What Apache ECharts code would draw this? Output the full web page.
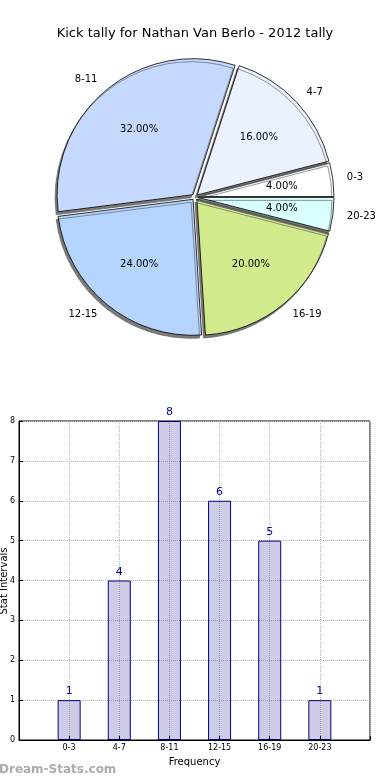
<!DOCTYPE html>
<html>
<head>
<meta charset="utf-8">
<script src="https://cdn.jsdelivr.net/npm/echarts@6/dist/echarts.min.js"></script>
<style>
html,body{margin:0;padding:0;background:#fff;}
#c{width:390px;height:780px;}
</style>
</head>
<body>
<div id="c"></div>
<script>
var titleText = 'Kick tally for Nathan Van Berlo - 2012 tally';
var categories = ['0-3', '4-7', '8-11', '12-15', '16-19', '20-23'];
var counts = [1, 4, 8, 6, 5, 1];
var sliceColors = ['#ffffff', '#ebf2ff', '#c5d9ff', '#b5d5ff', '#d0ea8c', '#d9ffff'];
var yTicks = [0, 1, 2, 3, 4, 5, 6, 7, 8];
var xName = 'Frequency';
var yName = 'Stat Intervals';
var watermark = 'Dream-Stats.com';

var FONT = 'DejaVu Sans';
var total = counts.reduce(function (a, b) { return a + b; }, 0);
var R = 136;
var OFF = 3;

var pieData = categories.map(function (c, i) {
  return { name: c, value: counts[i], selected: true, itemStyle: { color: sliceColors[i] } };
});
var pieLabelData = categories.map(function (c, i) {
  return { name: c, value: counts[i], selected: true };
});
var barData = counts.map(function (v, i) { return [i, v]; });

var chart = echarts.init(document.getElementById('c'), null, { renderer: 'canvas' });
chart.setOption({
  animation: false,
  title: {
    text: titleText, left: 'center', top: 22,
    textStyle: { fontFamily: FONT, fontSize: 13, fontWeight: 'normal', color: '#000' }
  },
  graphic: [{
    type: 'text', left: -1, top: 764,
    style: { text: watermark, fontFamily: FONT, fontSize: 12, fontWeight: 'bold', fill: '#acacac' }
  }, {
    type: 'text', x: 4, y: 581, rotation: Math.PI / 2,
    style: { text: yName, fontFamily: FONT, fontSize: 10, fill: '#000', align: 'center', verticalAlign: 'middle' }
  }],
  grid: {
    left: 19, right: 20, top: 421, bottom: 40,
    containLabel: false, outerBoundsMode: 'none',
    show: true, borderColor: '#000', borderWidth: 1, backgroundColor: 'transparent'
  },
  xAxis: {
    type: 'value', min: -1, max: 6, interval: 1,
    name: xName, nameLocation: 'middle', nameGap: 17, nameMoveOverlap: false,
    nameTextStyle: { fontFamily: FONT, fontSize: 10, color: '#000' },
    axisLine: { show: true, onZero: false, lineStyle: { color: '#000' } },
    axisTick: { show: true, inside: true, length: 4, lineStyle: { color: '#000' } },
    axisLabel: {
      fontFamily: FONT, fontSize: 8, color: '#000', margin: 4,
      formatter: function (v) { return categories[v] !== undefined ? categories[v] : ''; }
    },
    splitLine: { show: true, lineStyle: { type: 'dotted', color: '#bbbbbb', width: 1 } }
  },
  yAxis: {
    type: 'value', min: 0, max: 8, interval: 1,
    axisLine: { show: true, onZero: false, lineStyle: { color: '#000' } },
    axisTick: { show: true, inside: true, length: 4, lineStyle: { color: '#000' } },
    axisLabel: {
      fontFamily: FONT, fontSize: 8, color: '#000', margin: 4,
      formatter: function (v) { return yTicks.indexOf(v) >= 0 ? String(v) : ''; }
    },
    splitLine: { show: true, lineStyle: { type: 'dotted', color: '#bbbbbb', width: 1 } }
  },
  series: [
    {
      type: 'pie',
      center: [195, 197],
      radius: [0, R],
      startAngle: 0,
      clockwise: false,
      silent: true,
      selectedMode: 'multiple',
      selectedOffset: OFF,
      avoidLabelOverlap: false,
      emphasis: { disabled: true },
      itemStyle: {
        borderColor: '#000', borderWidth: 0.8,
        shadowColor: 'rgba(90,90,90,0.8)', shadowOffsetX: -2, shadowOffsetY: 3, shadowBlur: 0
      },
      select: { itemStyle: { borderColor: '#000', borderWidth: 0.8 } },
      label: {
        show: true, position: 'outside',
        fontFamily: FONT, fontSize: 10, color: '#000',
        formatter: '{b}', distanceToLabelLine: 0
      },
      labelLine: { show: false, length: Math.round(R * 0.1), length2: 0 },
      data: pieData,
      z: 2
    },
    {
      type: 'pie',
      center: [195, 197],
      radius: [0, R * 1.2],
      startAngle: 0,
      clockwise: false,
      silent: true,
      selectedMode: 'multiple',
      selectedOffset: OFF,
      avoidLabelOverlap: false,
      emphasis: { disabled: true },
      itemStyle: { color: 'rgba(0,0,0,0)', borderWidth: 0 },
      select: { itemStyle: { color: 'rgba(0,0,0,0)', borderWidth: 0 } },
      label: {
        show: true, position: 'inside',
        fontFamily: FONT, fontSize: 10, color: '#000',
        formatter: function (p) { return (p.value / total * 100).toFixed(2) + '%'; }
      },
      labelLine: { show: false },
      data: pieLabelData,
      z: 3
    },
    {
      type: 'bar',
      data: barData,
      barWidth: 23,
      silent: true,
      itemStyle: { color: 'rgba(0,0,128,0.2)', borderColor: '#000080', borderWidth: 1 },
      label: {
        show: true, position: 'top', distance: 3,
        fontFamily: FONT, fontSize: 11, color: '#0000a0',
        formatter: function (p) { return String(p.value[1]); }
      }
    }
  ]
});
</script>
</body>
</html>
